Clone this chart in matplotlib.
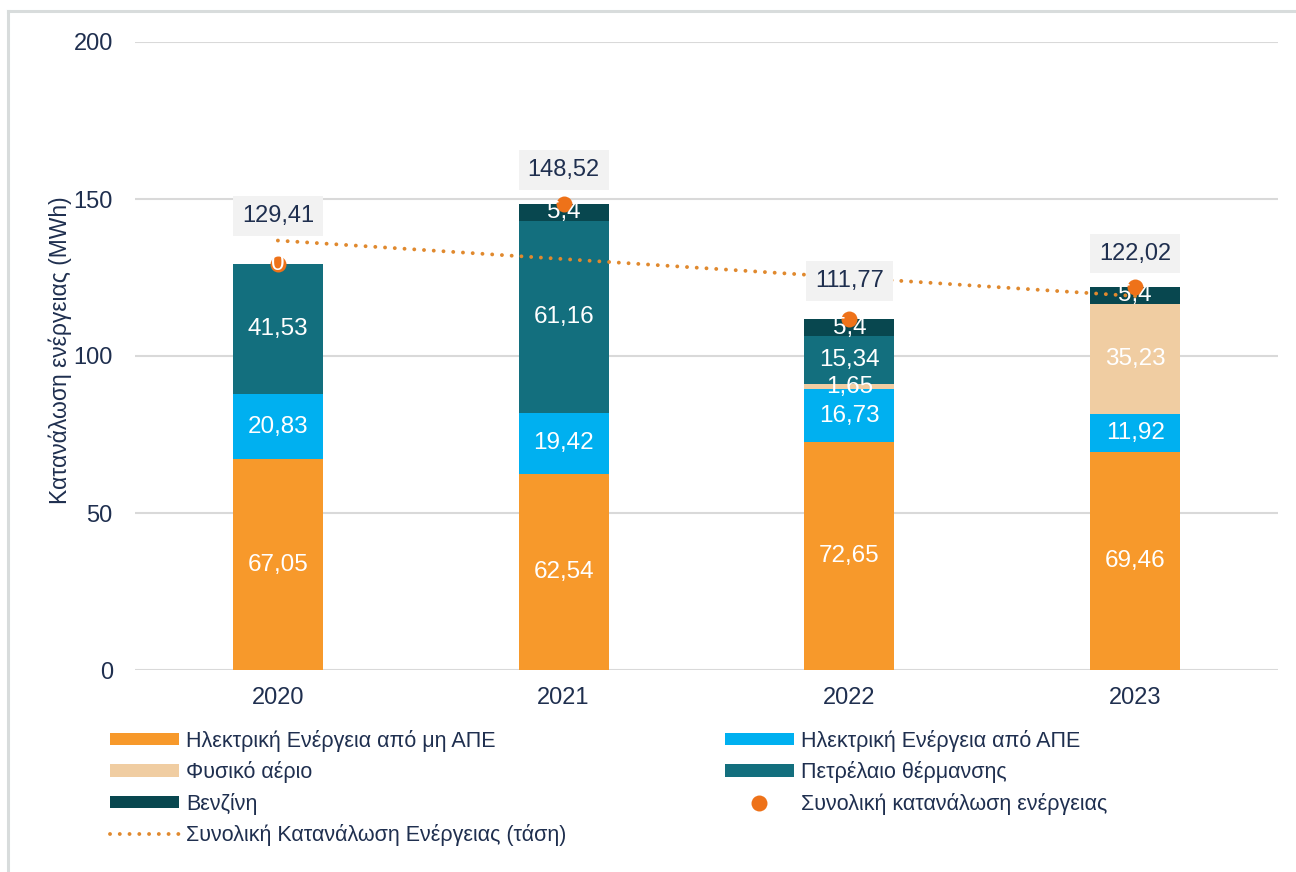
import numpy as np
import matplotlib
matplotlib.use("Agg")
import matplotlib.pyplot as plt
from matplotlib.patches import Patch
from matplotlib.lines import Line2D

plt.rcParams['font.family'] = ['Liberation Sans', 'DejaVu Sans']

# ---- data ----
years = ['2020', '2021', '2022', '2023']
elec_non_res = [67.05, 62.54, 72.65, 69.46]
elec_res = [20.83, 19.42, 16.73, 11.92]
natural_gas = [0, 0, 1.65, 35.23]
heating_oil = [41.53, 61.16, 15.34, 0]
petrol = [0, 5.4, 5.4, 5.4]
totals = [129.41, 148.52, 111.77, 122.02]

series_names = ['Ηλεκτρική Ενέργεια από μη ΑΠΕ', 'Ηλεκτρική Ενέργεια από ΑΠΕ',
                'Φυσικό αέριο', 'Πετρέλαιο θέρμανσης', 'Βενζίνη']
total_name = 'Συνολική κατανάλωση ενέργειας'
trend_name = 'Συνολική Κατανάλωση Ενέργειας (τάση)'
y_label = 'Κατανάλωση ενέργειας (MWh)'

# ---- style ----
colors = ['#F7992B', '#00B0F0', '#F0CDA2', '#136F7E', '#08474F']
navy = '#1F2F4F'
dot_color = '#EE7219'
trend_color = '#E0892E'

W, H = 1296, 872
fig = plt.figure(figsize=(W / 100, H / 100), dpi=100)
ax = fig.add_axes([135 / W, 1 - 670 / H, (1278 - 135) / W, (670 - 42) / H])

# border
fig.add_artist(Line2D([8 / W, 8 / W], [0, 1 - 11 / H], color='#D8DCDC', lw=2.2))
fig.add_artist(Line2D([8 / W, 1], [1 - 11 / H, 1 - 11 / H], color='#D8DCDC', lw=2.2))

x = np.arange(len(years))
bw = 0.315
series = [elec_non_res, elec_res, natural_gas, heating_oil, petrol]
bottom = np.zeros(len(years))
for si, (vals, col) in enumerate(zip(series, colors)):
    vals = np.array(vals, dtype=float)
    ax.bar(x, vals, bw, bottom=bottom, color=col, zorder=2, linewidth=0)
    for xi, v, b0 in zip(x, vals, bottom):
        if v > 0 or si == len(series) - 1:
            lab = ('%g' % v).replace('.', ',')
            ax.text(xi, b0 + v / 2, lab, ha='center', va='center', color='white',
                    fontsize=17.5, zorder=6)
    bottom = bottom + vals

# total dots
ax.plot(x, totals, 'o', color=dot_color, markersize=11.5, zorder=5, markeredgewidth=0)

# trend line (linear fit of totals)
k, c0 = np.polyfit(x, totals, 1)
ax.plot(x, k * x + c0, color=trend_color, lw=2.8, linestyle=(0, (0.01, 2.5)),
        dash_capstyle='round', zorder=4)

# total labels
offs = [34.5, 24, 27.5, 24]
for xi, t, o in zip(x, totals, offs):
    ax.annotate(('%.2f' % t).replace('.', ','), (xi, t), xytext=(0, o),
                textcoords='offset points', ha='center', va='center',
                fontsize=17, color=navy, zorder=7,
                bbox=dict(boxstyle='square,pad=0.38', fc='#F2F2F2', ec='none'))

ax.set_xlim(-0.5, 3.5)
ax.set_ylim(0, 200)
ax.set_yticks([0, 50, 100, 150, 200])
ax.set_xticks(x)
ax.set_xticklabels(years)
ax.tick_params(axis='both', length=0, labelsize=17, labelcolor=navy)
ax.tick_params(axis='y', pad=16)
ax.tick_params(axis='x', pad=12)
ax.grid(axis='y', color='#D9D9D9', lw=1.5, zorder=0)
ax.set_axisbelow(True)
for s in ax.spines.values():
    s.set_visible(False)

fig.text(60 / W, 1 - 350 / H, y_label, rotation=90, ha='center', va='center',
         fontsize=16.5, color=navy)

# legends
def ph(col):
    return Patch(facecolor=col, edgecolor='none')

h1 = [ph(colors[0]), ph(colors[2]), ph(colors[4]),
      Line2D([], [], color=trend_color, lw=2.8, linestyle=(0, (0.01, 2.5)),
             dash_capstyle='round')]
l1 = [series_names[0], series_names[2], series_names[4], trend_name]
h2 = [ph(colors[1]), ph(colors[3]),
      Line2D([], [], marker='o', color=dot_color, markersize=11.5, lw=0,
             markeredgewidth=0)]
l2 = [series_names[1], series_names[3], total_name]

common = dict(frameon=False, fontsize=15.5, borderpad=0, borderaxespad=0,
              handlelength=3.2, handleheight=0.5, handletextpad=0.35,
              labelspacing=0.43, loc='upper left', labelcolor=navy)
fig.legend(h1, l1, bbox_to_anchor=(110 / W, 1 - 730 / H), **common)
fig.legend(h2, l2, bbox_to_anchor=(725 / W, 1 - 730 / H), **common)

fig.savefig('out.png', dpi=100, facecolor='white')
